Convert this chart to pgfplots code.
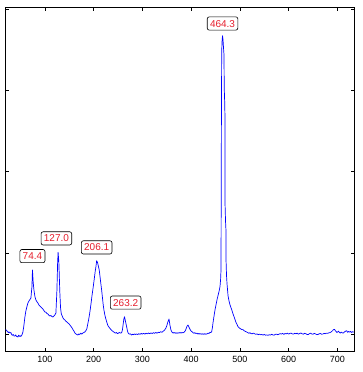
\documentclass[border=0pt]{standalone}
\usepackage{pgfplots}
\pgfplotsset{compat=1.18}
\usepackage{fontspec}
\setmainfont{Liberation Sans}
\definecolor{tipred}{RGB}{230,30,45}
\begin{document}
\begin{tikzpicture}
\path[use as bounding box] (-5.7pt,-20.3pt) rectangle (357.3pt,351.7pt);
\begin{axis}[
  at={(0pt,0pt)}, anchor=south west,
  scale only axis, width=348.3pt, height=344.4pt,
  xmin=19.5, xmax=734, ymin=0, ymax=344.4,
  xtick={100,200,300,400,500,600,700},
  ytick={17.4,98.7,180,261.4,342.7},
  yticklabels={},
  tick align=inside, major tick length=3.5pt,
  tick style={black, line width=0.5pt},
  axis line style={black, line width=0.8pt},
  xtick pos=both, ytick pos=both,
  /pgf/number format/assume math mode=true,
  xticklabel style={font=\fontsize{9}{10}\selectfont, yshift=-1pt},
  clip=true,
]
\addplot[blue, line width=0.7pt, line join=round] coordinates {
(19.5,22.4) (21,21) (23,20.5) (25,19) (26.5,19.8) (28,18.7) (30,19.2) (31.5,17.5) (33,16.3) (35,17.2) (36.5,15.8) (38.4,15.7) (40,16.8) (41.5,15.4) (43,15.2) (44.5,14.7) (46,16.5) (47.5,15.3) (49,16) (50.5,15.2) (52.8,16.7) (54.8,19.7) (56.5,25) (58.9,34.7) (61,41) (63,45) (65.1,48.7) (67,50.5) (69,52) (71.2,53.7) (73.3,64.7) (74.4,81.7) (75.8,70) (77.4,61.7) (79.5,55) (81.5,51.7) (83.5,50) (85.6,48.7) (88,46.5) (90,45.5) (91.8,44.5) (93.8,43.7) (96,42.5) (98,41) (100,39.7) (102,39.5) (104,38.2) (106,37.8) (108,36.5) (110.2,35.7) (112,36.2) (114,35.2) (116.4,34.7) (118,35.5) (120,36.5) (122.5,38.7) (124.6,61.7) (126,88.7) (127,99.4) (128.5,90) (130.5,60) (132,44) (133.5,38) (135.5,35.5) (137.5,33.4) (139.5,32.2) (141,31.7) (142.8,30.5) (144.5,30) (146.5,29) (148.5,28.2) (151.3,26.7) (153,25.5) (155,24.2) (158,21.7) (160,20.2) (161.5,18.7) (163.5,17.8) (165.5,17.2) (167.7,16.7) (169.5,17.8) (171.5,17.2) (173.5,18.5) (175.5,17.6) (177.9,18.7) (180,19.2) (182,19.8) (184,21) (186,23) (188,28) (190,33) (192.3,40) (194.5,48) (196.5,56) (199.1,65) (201.5,74) (203,80) (204.6,85) (206.1,91) (208,89) (209.8,85) (211.4,81.7) (213,75) (214.7,68) (216.3,61.7) (218,54) (219.5,47) (221,41.7) (223,36.5) (224.8,33) (226.6,30) (228.5,27) (230.5,25) (233.4,23.4) (235.5,22) (237.8,21) (240.2,20) (242.5,19.3) (244.5,18.5) (246.5,19.2) (248.5,18.2) (250.4,18.4) (252.5,19.3) (254.5,18.6) (257.4,19) (259,22) (260.7,28.4) (262,33) (263.2,35) (264.5,32) (266,28.5) (267.6,25) (269.2,21) (271,18.4) (273,17.5) (275,17.9) (277.9,16.7) (280,17.5) (282,17) (284,17.8) (286,17.2) (288.2,17.7) (290.5,17.1) (292.5,18) (295,17.4) (297.5,18.2) (300,17.6) (302.5,18.4) (305,17.6) (307.5,18.5) (310,17.9) (312.5,18.7) (315,18) (317.5,18.8) (320,18.2) (322.5,19) (325,18.4) (327.5,19.2) (330,18.5) (332.5,19.4) (335,19.2) (337.5,20) (340,19.4) (342,20.3) (344,21) (346,22) (348,23.5) (350,26) (352,29.5) (354.5,32.7) (356.3,27) (358.3,22) (360.6,19.5) (363,18.6) (365,19.3) (367,18.4) (369,19) (370.9,18.3) (373,19) (375,18.5) (377,19.3) (379,18.6) (381,19.2) (383.2,18.8) (385.5,19.5) (388,21) (390,23.5) (391.5,25.5) (393.5,26.7) (395.5,24.5) (397.5,22.5) (399.5,20.8) (401.6,20) (403.5,19.2) (405.5,18.4) (407.5,19) (409.5,18.2) (411.9,18.5) (414,17.6) (416,18.3) (418,17.5) (420,18.1) (422,17.4) (424,18) (426,17.3) (428,18.1) (430,17.5) (432.5,17.8) (434.5,18.6) (436.5,18.2) (438.5,19.4) (440.5,19.2) (442,20) (443.5,24) (444.8,29) (446.8,35.5) (448.9,42) (451,47) (453,52) (455,56) (457,60) (459.1,65) (460.3,72) (461.2,82) (461.6,160) (462,230) (462.6,300) (463.5,312) (464.3,316) (465.3,312) (466.3,304) (467.3,297) (467.8,264) (468.7,250) (469.3,235) (469.5,147) (470.5,130) (471.3,122) (471.6,90) (472.5,76) (473.5,68) (475.6,56) (477.5,51) (479.3,47.5) (481.3,44.5) (483.2,42) (485,39) (486.8,36.5) (488.5,34.2) (490,32) (491.8,29.5) (493.8,27.5) (496.1,25) (498.5,23.8) (501,23) (503.5,22.2) (506.4,22) (508.5,21) (511,20.3) (513.5,19.8) (516.6,19) (518.5,18.4) (520.5,19) (522.5,18.2) (525,17.8) (527.5,18.6) (530,18) (532.5,17.4) (535,17.8) (537.5,17) (540,17.6) (542.5,16.9) (545,17.2) (547.5,16.6) (550,17.3) (552.5,16.5) (555,16.8) (557.5,16.3) (560,17) (562.5,16.6) (565,17.4) (567.5,16.8) (570,16.5) (572.5,17.3) (575,17.6) (577.5,17) (580,17.5) (582.5,18.1) (585,17.6) (587.5,18.3) (590,17.3) (592.5,18.2) (595,17.8) (597.5,18.5) (600,17.6) (602.5,18.3) (605,18.6) (607.5,17.8) (610,17.6) (612.5,18.4) (615,17.9) (617.5,18.6) (620,17.5) (622.5,18.2) (625,18.7) (627.5,17.9) (630,17.5) (632.5,18.4) (635,18) (637.5,17.3) (640,17.1) (642.5,18) (645,18.6) (647.5,17.7) (650,17.5) (652.5,18.3) (655,17.8) (657.5,17.2) (660,17.1) (662.5,17.9) (665,18.2) (667.5,17.5) (670,17.6) (672.5,18.3) (675,18) (677.5,18.6) (680,18.4) (682.5,18.8) (685,19.2) (687.5,19.8) (690,21) (692,22) (694,22.4) (695.5,21.2) (697,20.4) (699,19.2) (700.5,19.8) (702,20.6) (704,19.3) (706,18.6) (708,19.6) (710,18.8) (712,18.6) (714,19.7) (716,20.2) (718,21) (719.5,20.6) (721,19.4) (723,20.2) (725,19.6) (727,20.3) (729,19.2) (731,20) (733,19.6) (734,19.8)
};
\tikzset{tip/.style={draw=black, fill=white, rounded corners=2pt, line width=0.6pt, text=tipred, font=\fontsize{10}{12}\selectfont, inner xsep=2.8pt, inner ysep=3pt, text height=7.2pt, text depth=0pt, anchor=south}}
\node[tip, yshift=7pt] at (axis cs:74.4,81.7) {74.4};
\node[tip, yshift=7pt, xshift=-1.7pt] at (axis cs:127,99.4) {127.0};
\node[tip, yshift=6.4pt] at (axis cs:206.1,91) {206.1};
\node[tip, yshift=7.2pt, xshift=1.2pt] at (axis cs:263.2,35) {263.2};
\node[tip, yshift=5.3pt] at (axis cs:464.3,316) {464.3};
\end{axis}
\end{tikzpicture}
\end{document}
